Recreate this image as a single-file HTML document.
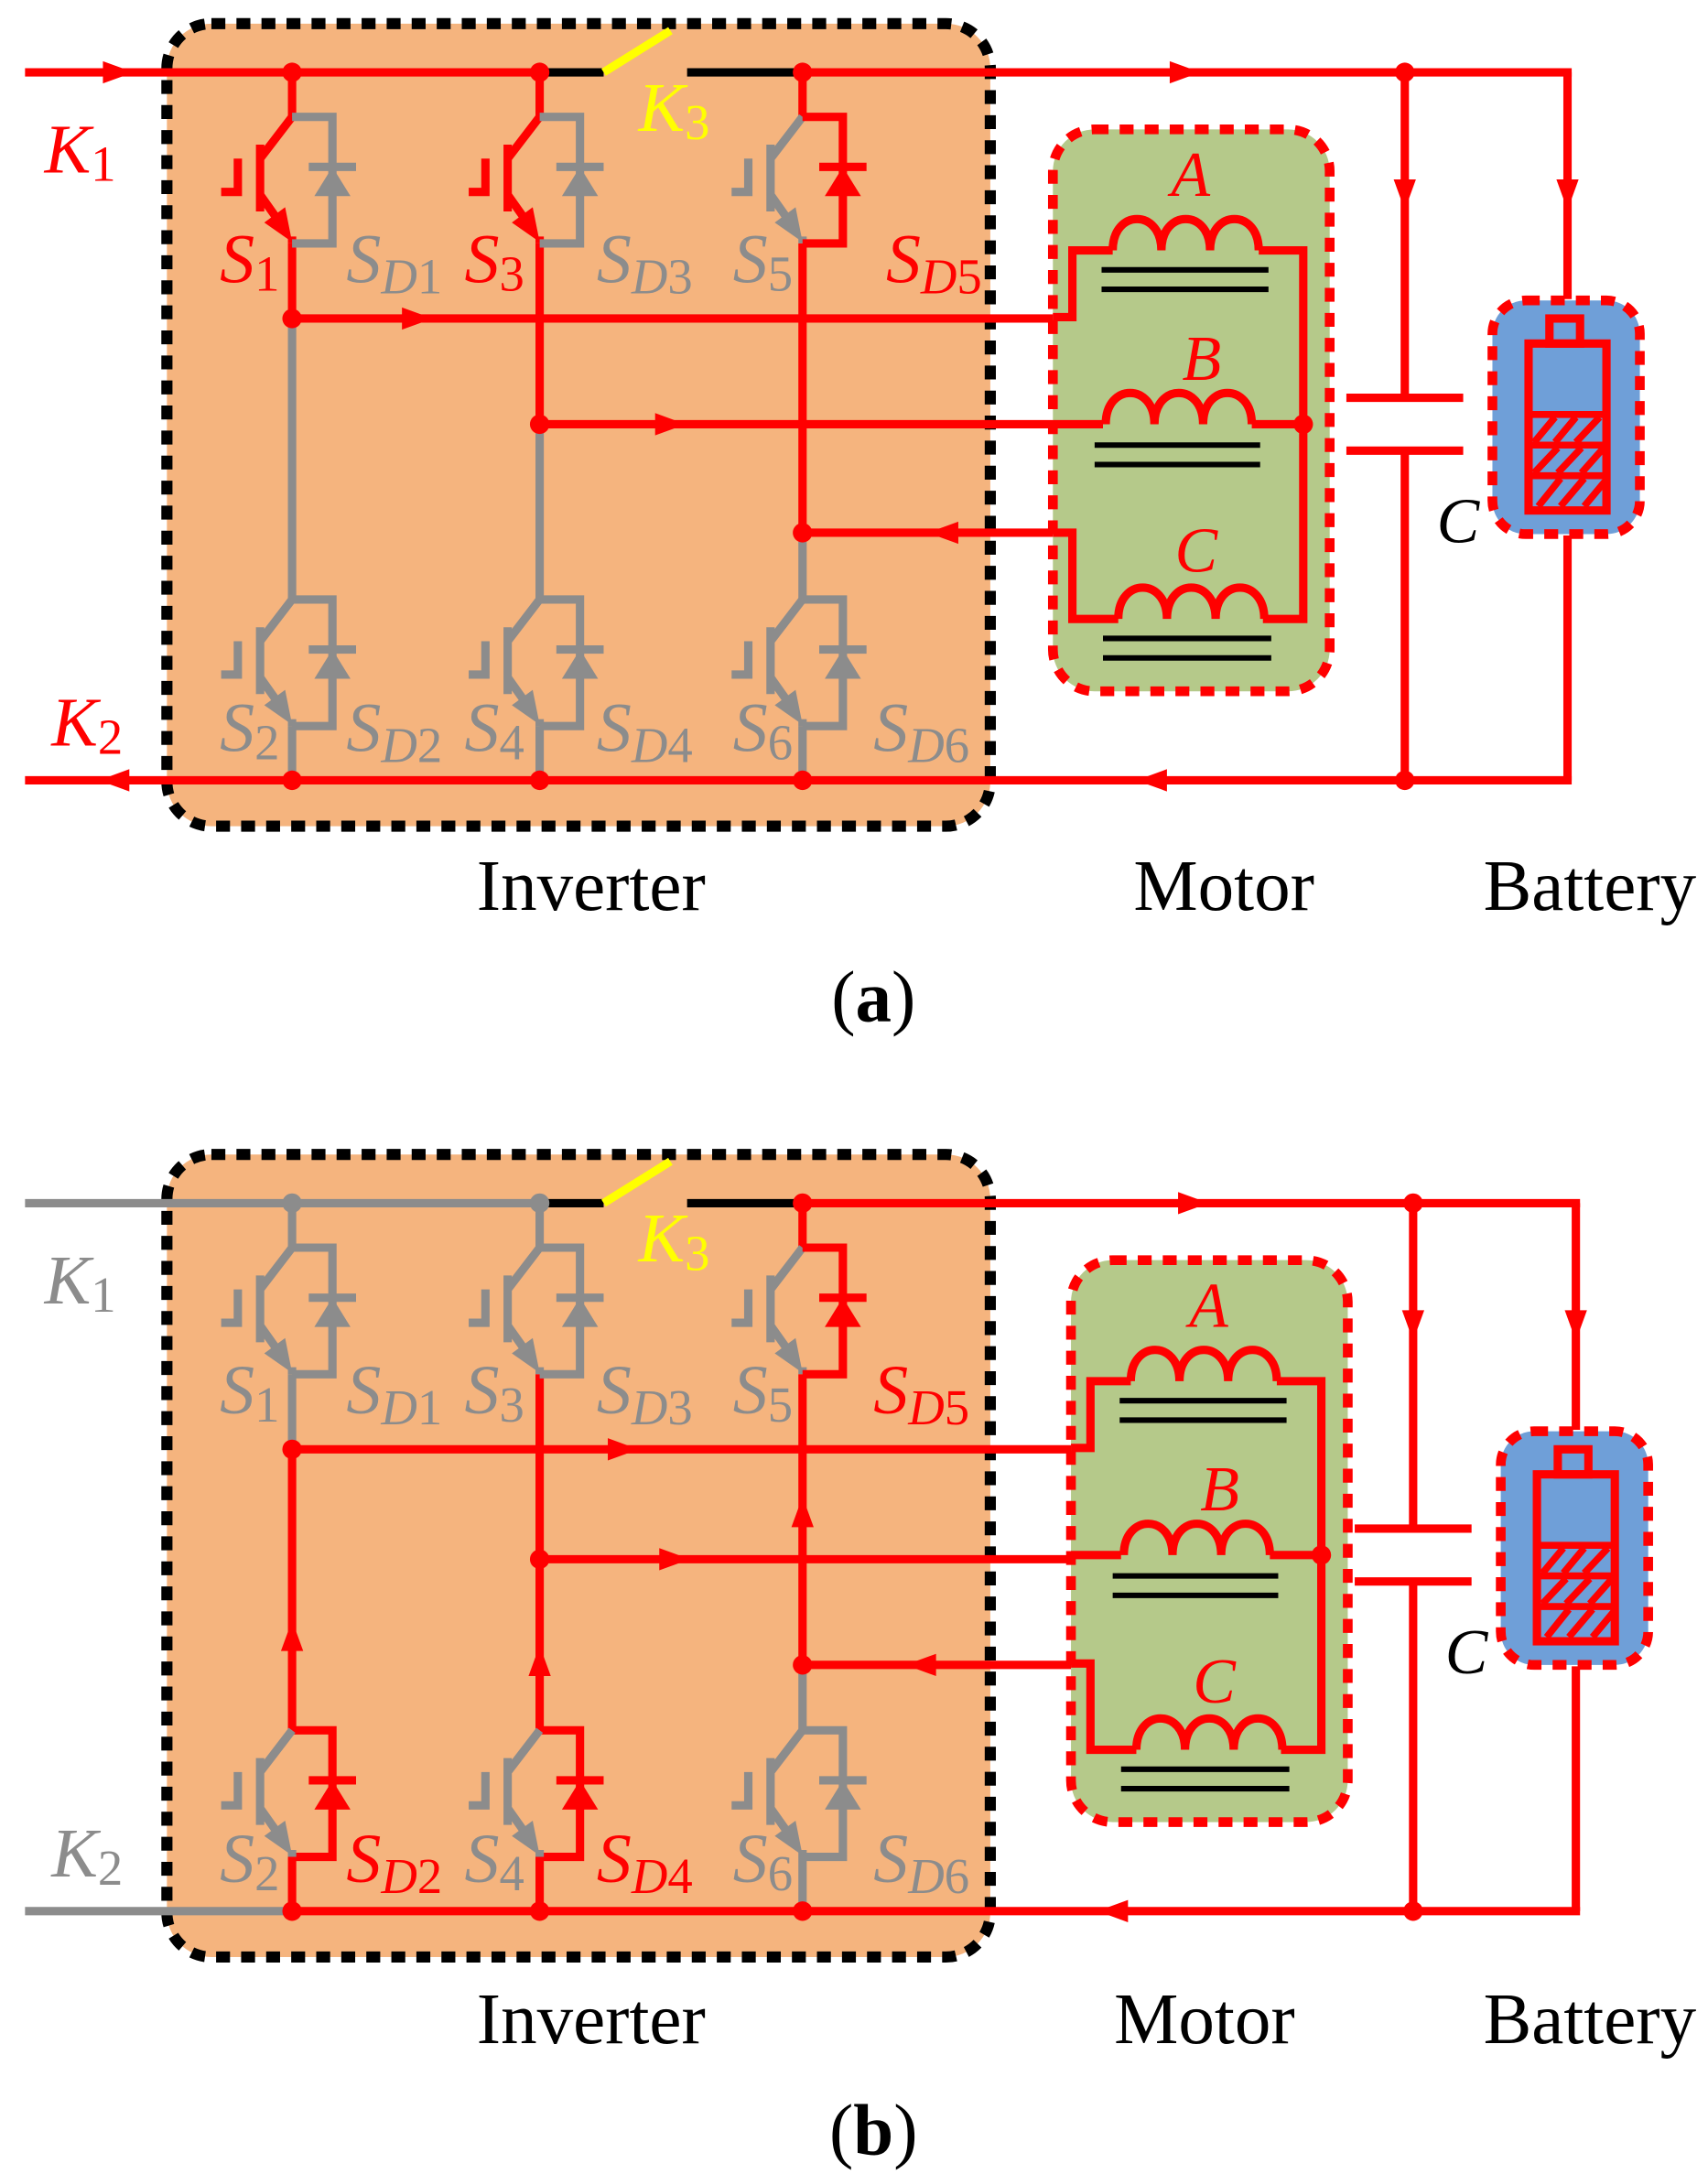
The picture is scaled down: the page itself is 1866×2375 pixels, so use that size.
<!DOCTYPE html>
<html><head><meta charset="utf-8"><style>
html,body{margin:0;padding:0;background:#fff}
svg{display:block}
text{font-family:"Liberation Serif",serif}
</style></head><body>
<svg width="1866" height="2375" viewBox="0 0 1228 1563" preserveAspectRatio="none" xmlns="http://www.w3.org/2000/svg">
<defs>
<g id="tr" fill="none" stroke="currentColor" stroke-width="6">
<path d="M0,0 L-23,30 M-23,20 V68 M-39,30 V54 H-51 M-23,56 L-6,80 M0,86 V91"/>
<polygon points="0,90 -5,65 -20,76" fill="currentColor" stroke="none"/>
</g>
<g id="dl" fill="none" stroke="currentColor" stroke-width="6">
<path d="M0,0 H29 V91 H0 M12,36 H46"/>
<polygon points="29,36 16,57 42,57" fill="currentColor" stroke="none"/>
</g>
<g id="arR"><polygon points="11,0 -11,-8 -11,8" fill="currentColor"/></g>
<g id="arL"><polygon points="-11,0 11,-8 11,8" fill="currentColor"/></g>
<g id="arU"><polygon points="0,-11 -8,11 8,11" fill="currentColor"/></g>
<g id="arD"><polygon points="0,11 -8,-11 8,-11" fill="currentColor"/></g>
<g id="coil" fill="none" stroke="#f00" stroke-width="6">
<path d="M0,0 C0,-30 35,-30 35,0 C35,-30 70,-30 70,0 C70,-30 105,-30 105,0"/>
</g>
<g id="motor">
<rect x="757" y="93" width="199" height="404" rx="30" fill="#B5C98A" stroke="#f00" stroke-width="7" stroke-dasharray="10,8"/>
<g fill="none" stroke="#f00" stroke-width="6">
<path d="M757,228 H771 V180 H800 M905,180 H937 V445 H908 M804,445 H771 V383 H757 M757,305 H793 M900,305 H937"/>
</g>
<use href="#coil" transform="translate(800,180)"/>
<use href="#coil" transform="translate(795,305)"/>
<use href="#coil" transform="translate(804,445)"/>
<g stroke="#000" stroke-width="4"><path d="M792,194 H912 M792,208 H912 M787,320 H906 M787,334 H906 M793,459 H914 M793,473 H914"/></g>
<circle cx="937" cy="305" r="7" fill="#f00"/>
<g fill="#f00" font-style="italic" font-size="46" text-anchor="middle"><text x="856" y="141">A</text><text x="864" y="273">B</text><text x="860" y="411">C</text></g>
</g>
<g id="capbat">
<g fill="none" stroke="#f00" stroke-width="6"><path d="M1010,52 V286 M1010,324 V561 M968,286 H1052 M968,324 H1052 M1127,52 V215 M1127,385 V561"/></g>
<g color="#f00"><use href="#arD" transform="translate(1010,140)"/><use href="#arD" transform="translate(1127,140)"/></g>
<rect x="1073" y="216" width="106" height="168" rx="24" fill="#6F9FD8" stroke="#f00" stroke-width="7" stroke-dasharray="10,8"/>
<g fill="none" stroke="#f00" stroke-width="6">
<rect x="1114" y="229" width="22" height="18"/>
<rect x="1099" y="247" width="56" height="120"/>
<path d="M1099,298 H1155 M1099,320 H1155 M1099,342 H1155 M1103,318 L1118,300 M1118,318 L1133,300 M1133,318 L1150,300 M1103,340 L1120,322 M1120,340 L1137,322 M1137,340 L1153,322 M1106,364 L1122,344 M1122,364 L1139,344 M1139,364 L1154,346" stroke-width="5"/>
</g>
<text x="1033" y="390" font-size="46" font-style="italic" fill="#000">C</text>
</g>
</defs>

<!-- ================= (a) ================= -->
<rect x="120" y="17" width="592" height="577" rx="32" fill="#F5B47E" stroke="#000" stroke-width="8" stroke-dasharray="10,8"/>
<g fill="none" stroke-width="6">
<path d="M18,52 H388" stroke="#f00"/>
<path d="M577,52 H1130" stroke="#f00"/>
<path d="M18,561 H1130" stroke="#f00"/>
<path d="M388,52 H434 M494,52 H577" stroke="#000" stroke-width="6"/>
<path d="M434,52 L482,22" stroke="#ff0" stroke-width="6"/>
<path d="M210,229 H771 M388,305 H757 M577,383 H757" stroke="#f00"/>
<path d="M210,52 V84 M210,175 V229 M388,52 V84 M388,175 V305 M577,52 V84 M577,175 V383" stroke="#f00"/>
<path d="M210,229 V431 M210,522 V561 M388,305 V431 M388,522 V561 M577,383 V431 M577,522 V561" stroke="#8C8C8C"/>
</g>
<use href="#tr" transform="translate(210,84)" color="#f00"/>
<use href="#dl" transform="translate(210,84)" color="#8C8C8C"/>
<use href="#tr" transform="translate(388,84)" color="#f00"/>
<use href="#dl" transform="translate(388,84)" color="#8C8C8C"/>
<use href="#tr" transform="translate(577,84)" color="#8C8C8C"/>
<use href="#dl" transform="translate(577,84)" color="#f00"/>
<use href="#tr" transform="translate(210,431)" color="#8C8C8C"/>
<use href="#dl" transform="translate(210,431)" color="#8C8C8C"/>
<use href="#tr" transform="translate(388,431)" color="#8C8C8C"/>
<use href="#dl" transform="translate(388,431)" color="#8C8C8C"/>
<use href="#tr" transform="translate(577,431)" color="#8C8C8C"/>
<use href="#dl" transform="translate(577,431)" color="#8C8C8C"/>
<g color="#f00">
<use href="#arR" transform="translate(85,52)"/><use href="#arR" transform="translate(852,52)"/>
<use href="#arL" transform="translate(82,561)"/><use href="#arL" transform="translate(828,561)"/>
<use href="#arR" transform="translate(300,229)"/><use href="#arR" transform="translate(482,305)"/>
<use href="#arL" transform="translate(678,383)"/>
</g>
<g fill="#f00">
<circle cx="210" cy="52" r="7"/><circle cx="388" cy="52" r="7"/><circle cx="577" cy="52" r="7"/>
<circle cx="210" cy="561" r="7"/><circle cx="388" cy="561" r="7"/><circle cx="577" cy="561" r="7"/>
<circle cx="210" cy="229" r="7"/><circle cx="388" cy="305" r="7"/><circle cx="577" cy="383" r="7"/>
<circle cx="1010" cy="52" r="7"/><circle cx="1010" cy="561" r="7"/>
</g>
<use href="#motor"/>
<use href="#capbat"/>
<g font-size="50" font-style="italic">
<text x="158" y="203" fill="#f00">S<tspan font-size="36" font-style="normal" dy="6">1</tspan></text>
<text x="249" y="203" fill="#8C8C8C">S<tspan font-size="36" dy="8">D</tspan><tspan font-size="36" font-style="normal">1</tspan></text>
<text x="334" y="203" fill="#f00">S<tspan font-size="36" font-style="normal" dy="6">3</tspan></text>
<text x="429" y="203" fill="#8C8C8C">S<tspan font-size="36" dy="8">D</tspan><tspan font-size="36" font-style="normal">3</tspan></text>
<text x="527" y="203" fill="#8C8C8C">S<tspan font-size="36" font-style="normal" dy="6">5</tspan></text>
<text x="637" y="203" fill="#f00">S<tspan font-size="36" dy="8">D</tspan><tspan font-size="36" font-style="normal">5</tspan></text>
<text x="158" y="540" fill="#8C8C8C">S<tspan font-size="36" font-style="normal" dy="6">2</tspan></text>
<text x="249" y="540" fill="#8C8C8C">S<tspan font-size="36" dy="8">D</tspan><tspan font-size="36" font-style="normal">2</tspan></text>
<text x="334" y="540" fill="#8C8C8C">S<tspan font-size="36" font-style="normal" dy="6">4</tspan></text>
<text x="429" y="540" fill="#8C8C8C">S<tspan font-size="36" dy="8">D</tspan><tspan font-size="36" font-style="normal">4</tspan></text>
<text x="527" y="540" fill="#8C8C8C">S<tspan font-size="36" font-style="normal" dy="6">6</tspan></text>
<text x="628" y="540" fill="#8C8C8C">S<tspan font-size="36" dy="8">D</tspan><tspan font-size="36" font-style="normal">6</tspan></text>
<text x="32" y="124" fill="#f00">K<tspan font-size="36" font-style="normal" dy="6">1</tspan></text>
<text x="37" y="536" fill="#f00">K<tspan font-size="36" font-style="normal" dy="6">2</tspan></text>
<text x="459" y="94" fill="#ff0">K<tspan font-size="36" font-style="normal" dy="6">3</tspan></text>
</g>
<g font-size="52" text-anchor="middle" fill="#000">
<text x="425" y="654">Inverter</text><text x="880" y="654">Motor</text><text x="1143" y="654">Battery</text>
<text x="628" y="734">(<tspan font-weight="bold">a</tspan>)</text>
</g>

<!-- ================= (b) ================= -->
<g transform="translate(0,813)">
<rect x="120" y="17" width="592" height="577" rx="32" fill="#F5B47E" stroke="#000" stroke-width="8" stroke-dasharray="10,8"/>
<g fill="none" stroke-width="6">
<path d="M18,52 H388" stroke="#8C8C8C"/>
<path d="M577,52 H1136" stroke="#f00"/>
<path d="M18,561 H210" stroke="#8C8C8C"/>
<path d="M210,561 H1136" stroke="#f00"/>
<path d="M388,52 H434 M494,52 H577" stroke="#000" stroke-width="6"/>
<path d="M434,52 L482,22" stroke="#ff0" stroke-width="6"/>
<path d="M210,229 H784 M388,308 H770 M577,384 H770" stroke="#f00"/>
<path d="M210,52 V84 M210,175 V229 M388,52 V84 M577,384 V431 M577,522 V561" stroke="#8C8C8C"/>
<path d="M577,52 V84 M577,175 V384 M388,175 V431 M210,229 V431 M210,522 V561 M388,522 V561" stroke="#f00"/>
</g>
<use href="#tr" transform="translate(210,84)" color="#8C8C8C"/>
<use href="#dl" transform="translate(210,84)" color="#8C8C8C"/>
<use href="#tr" transform="translate(388,84)" color="#8C8C8C"/>
<use href="#dl" transform="translate(388,84)" color="#8C8C8C"/>
<use href="#tr" transform="translate(577,84)" color="#8C8C8C"/>
<use href="#dl" transform="translate(577,84)" color="#f00"/>
<use href="#dl" transform="translate(210,431)" color="#f00"/>
<use href="#tr" transform="translate(210,431)" color="#8C8C8C"/>
<use href="#dl" transform="translate(388,431)" color="#f00"/>
<use href="#tr" transform="translate(388,431)" color="#8C8C8C"/>
<use href="#tr" transform="translate(577,431)" color="#8C8C8C"/>
<use href="#dl" transform="translate(577,431)" color="#8C8C8C"/>
<g color="#f00">
<use href="#arR" transform="translate(858,52)"/>
<use href="#arL" transform="translate(800,561)"/>
<use href="#arR" transform="translate(448,229)"/><use href="#arR" transform="translate(485,308)"/>
<use href="#arL" transform="translate(662,384)"/>
<use href="#arU" transform="translate(210,363)"/><use href="#arU" transform="translate(388,381)"/><use href="#arU" transform="translate(577,274)"/>
</g>
<g fill="#8C8C8C"><circle cx="210" cy="52" r="7"/><circle cx="388" cy="52" r="7"/></g>
<g fill="#f00">
<circle cx="577" cy="52" r="7"/>
<circle cx="210" cy="561" r="7"/><circle cx="388" cy="561" r="7"/><circle cx="577" cy="561" r="7"/>
<circle cx="210" cy="229" r="7"/><circle cx="388" cy="308" r="7"/><circle cx="577" cy="384" r="7"/>
<circle cx="1016" cy="52" r="7"/><circle cx="1016" cy="561" r="7"/>
</g>
<use href="#motor" transform="translate(13,0)"/>
<use href="#capbat" transform="translate(6,0)"/>
<g font-size="50" font-style="italic">
<text x="158" y="203" fill="#8C8C8C">S<tspan font-size="36" font-style="normal" dy="6">1</tspan></text>
<text x="249" y="203" fill="#8C8C8C">S<tspan font-size="36" dy="8">D</tspan><tspan font-size="36" font-style="normal">1</tspan></text>
<text x="334" y="203" fill="#8C8C8C">S<tspan font-size="36" font-style="normal" dy="6">3</tspan></text>
<text x="429" y="203" fill="#8C8C8C">S<tspan font-size="36" dy="8">D</tspan><tspan font-size="36" font-style="normal">3</tspan></text>
<text x="527" y="203" fill="#8C8C8C">S<tspan font-size="36" font-style="normal" dy="6">5</tspan></text>
<text x="628" y="203" fill="#f00">S<tspan font-size="36" dy="8">D</tspan><tspan font-size="36" font-style="normal">5</tspan></text>
<text x="158" y="540" fill="#8C8C8C">S<tspan font-size="36" font-style="normal" dy="6">2</tspan></text>
<text x="249" y="540" fill="#f00">S<tspan font-size="36" dy="8">D</tspan><tspan font-size="36" font-style="normal">2</tspan></text>
<text x="334" y="540" fill="#8C8C8C">S<tspan font-size="36" font-style="normal" dy="6">4</tspan></text>
<text x="429" y="540" fill="#f00">S<tspan font-size="36" dy="8">D</tspan><tspan font-size="36" font-style="normal">4</tspan></text>
<text x="527" y="540" fill="#8C8C8C">S<tspan font-size="36" font-style="normal" dy="6">6</tspan></text>
<text x="628" y="540" fill="#8C8C8C">S<tspan font-size="36" dy="8">D</tspan><tspan font-size="36" font-style="normal">6</tspan></text>
<text x="32" y="124" fill="#8C8C8C">K<tspan font-size="36" font-style="normal" dy="6">1</tspan></text>
<text x="37" y="536" fill="#8C8C8C">K<tspan font-size="36" font-style="normal" dy="6">2</tspan></text>
<text x="459" y="94" fill="#ff0">K<tspan font-size="36" font-style="normal" dy="6">3</tspan></text>
</g>
<g font-size="52" text-anchor="middle" fill="#000">
<text x="425" y="656">Inverter</text><text x="866" y="656">Motor</text><text x="1143" y="656">Battery</text>
<text x="628" y="736">(<tspan font-weight="bold">b</tspan>)</text>
</g>
</g>
</svg>
</body></html>
